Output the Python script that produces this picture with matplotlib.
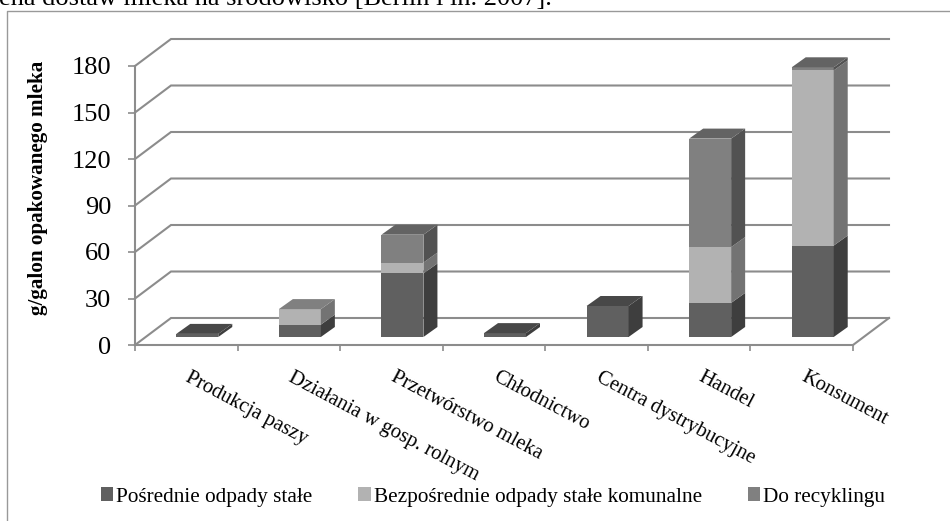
import matplotlib
matplotlib.use("Agg")
import numpy as np
import matplotlib.pyplot as plt
from matplotlib.lines import Line2D
from matplotlib.patches import Patch, Polygon

# --- Data -------------------------------------------------------------------
categories = ["Produkcja paszy", "Działania w gosp. rolnym", "Przetwórstwo mleka", "Chłodnictwo",
              "Centra dystrybucyjne", "Handel", "Konsument"]
series_names = ["Pośrednie odpady stałe", "Bezpośrednie odpady stałe komunalne", "Do recyklingu"]
posrednie = [2, 8, 41, 2.5, 20, 22, 59]
bezposrednie = [0, 10, 7, 0, 0, 36, 113]
recykling = [0, 0, 18, 0, 0, 70, 2]
y_ticks = [0, 30, 60, 90, 120, 150, 180]
caption = "ena dostaw mleka na środowisko [Berlin i in. 2007]."

# --- Colours ----------------------------------------------------------------
front_colors = ["#606060", "#b2b2b2", "#808080"]
side_colors = ["#3e3e3e", "#737373", "#525252"]
top_colors = ["#484848", "#808080", "#636363"]
grid_color = "#8c8c8c"

# --- Layout in pixels -------------------------------------------------------
W, H = 950, 521
LEFT, RIGHT, Y0, Y180 = 135, 853, 345, 66
WALL_X, WALL_Y = 36, 27  # depth of the 3D box
BAR_W = 42
BAR_X, BAR_Y = 11, 8  # bar front face offset from the front plane
BAR_DX, BAR_DY = 14, 10  # bar depth

plt.rcParams["font.family"] = ["Liberation Serif", "DejaVu Serif"]

fig = plt.figure(figsize=(W / 100, H / 100), dpi=100)
ax = fig.add_axes([LEFT / W, 1 - Y0 / H, (RIGHT - LEFT) / W, (Y0 - Y180) / H])
ax.set_xlim(0, len(categories))
ax.set_ylim(0, 180)
ax.patch.set_alpha(0)

# data units per pixel
ux = len(categories) / (RIGHT - LEFT)
uy = 180 / (Y0 - Y180)

# --- Walls and floor --------------------------------------------------------
for v in y_ticks:
    ax.plot([0, WALL_X * ux, len(categories) + WALL_X * ux], [v, v + WALL_Y * uy, v + WALL_Y * uy],
            color=grid_color, lw=1.5, clip_on=False, zorder=1, solid_joinstyle="miter")
ax.plot([len(categories), len(categories) + WALL_X * ux], [0, WALL_Y * uy],
        color=grid_color, lw=1.5, clip_on=False, zorder=1)

for name in ["top", "right"]:
    ax.spines[name].set_visible(False)
for name in ["left", "bottom"]:
    ax.spines[name].set_color(grid_color)
    ax.spines[name].set_linewidth(1.5)

ax.set_yticks(y_ticks)
ax.tick_params(axis="y", labelsize=19, length=5, width=1.2, color=grid_color, pad=12)
ax.set_xticks(np.arange(len(categories) + 1))
ax.set_xticklabels([])
ax.tick_params(axis="x", which="major", length=4, width=1.2, color=grid_color)
# labels hang a little right of the category centre
ax.set_xticks(np.arange(len(categories)) + 0.5 + 5 * ux, categories, minor=True, rotation=-28, ha="left",
              rotation_mode="anchor", fontsize=14.9)
ax.tick_params(axis="x", which="minor", length=0, pad=16.5)
ax.set_ylabel("g/galon opakowanego mleka", fontsize=15.2, fontweight="bold")
ax.yaxis.set_label_coords((48 - LEFT) / (RIGHT - LEFT), 0.563)

# --- Stacked 3D bars --------------------------------------------------------
all_series = [posrednie, bezposrednie, recykling]
dx, dy = BAR_DX * ux, BAR_DY * uy
for i in range(len(categories)):
    x0 = i + 0.5 + (BAR_X - BAR_W / 2) * ux
    x1 = x0 + BAR_W * ux
    base = BAR_Y * uy
    top_idx = 0
    for s, values in enumerate(all_series):
        h = values[i]
        if h <= 0:
            continue
        ax.add_patch(Polygon([(x0, base), (x1, base), (x1, base + h), (x0, base + h)],
                             facecolor=front_colors[s], edgecolor="none", clip_on=False, zorder=3))
        ax.add_patch(Polygon([(x1, base), (x1 + dx, base + dy), (x1 + dx, base + h + dy), (x1, base + h)],
                             facecolor=side_colors[s], edgecolor="none", clip_on=False, zorder=3))
        base += h
        top_idx = s
    ax.add_patch(Polygon([(x0, base), (x1, base), (x1 + dx, base + dy), (x0 + dx, base + dy)],
                         facecolor=top_colors[top_idx], edgecolor="none", clip_on=False, zorder=3))

# --- Legend -----------------------------------------------------------------
handles = [Patch(facecolor=c, edgecolor="none") for c in front_colors]
fig.legend(handles, series_names, loc="center left", bbox_to_anchor=(101 / W, 1 - 497 / H), ncol=3,
           frameon=False, fontsize=15.35, handlelength=0.58, handleheight=0.65, handletextpad=0.14,
           columnspacing=2.15, borderpad=0, borderaxespad=0)

# --- Chart frame and the clipped line of body text above it -----------------
fig.add_artist(Line2D([6.5 / W, 6.5 / W, 1], [0, 1 - 10.5 / H, 1 - 10.5 / H], color="#999999", lw=1))
fig.text(-1 / W, 1 - 5 / H, caption, fontsize=19, color="black", ha="left", va="baseline")

fig.savefig("out.png", dpi=100)
